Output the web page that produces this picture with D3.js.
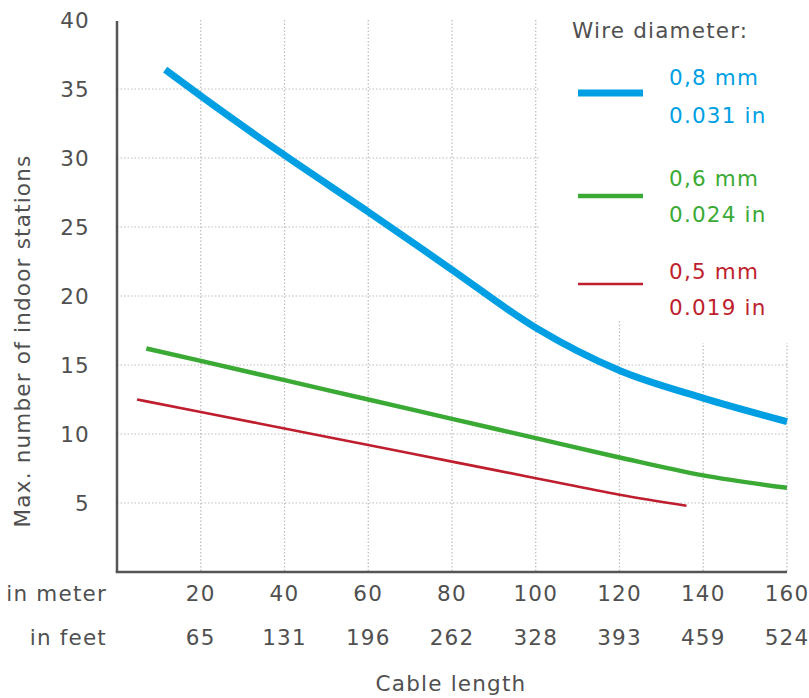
<!DOCTYPE html>
<html>
<head>
<meta charset="utf-8">
<script src="https://cdn.jsdelivr.net/npm/d3@7"></script>
<style>
  html, body { margin: 0; padding: 0; background: #fff; }
</style>
</head>
<body>
<script>
// Max. number of indoor stations vs cable length, per wire diameter.

// ---------------------------------------------------------------------------
// Data
// ---------------------------------------------------------------------------

const meterTicks = [20, 40, 60, 80, 100, 120, 140, 160];
const feetTicks = ["65", "131", "196", "262", "328", "393", "459", "524"];
const yTicks = [5, 10, 15, 20, 25, 30, 35, 40];

// [cable length in m, max stations]
const wire08 = [[11.5, 36.4], [20, 34.5], [40, 30.2], [60, 26.1], [80, 21.9], [100, 17.7], [120, 14.6], [140, 12.6], [160, 10.9]];
const wire06 = [[7, 16.2], [20, 15.3], [40, 13.9], [60, 12.5], [80, 11.1], [100, 9.7], [120, 8.3], [140, 7.0], [160, 6.1]];
const wire05 = [[4.8, 12.5], [20, 11.6], [40, 10.4], [60, 9.2], [80, 8.0], [100, 6.8], [120, 5.6], [136, 4.8]];

const seriesNames = [["0,8 mm", "0.031 in"], ["0,6 mm", "0.024 in"], ["0,5 mm", "0.019 in"]];

// ---------------------------------------------------------------------------
// Setup
// ---------------------------------------------------------------------------

const width = 809;
const height = 698;
const FONT = "'DejaVu Sans', sans-serif";
const FS = 21.5;
const LS = 1.2;
const TEXT = "#505050";
const COLORS = ["#009fe3", "#3aaa35", "#be1e2d"];
const WIDTHS = [7, 4.5, 2.6];

const svg = d3.select("body").append("svg")
  .attr("width", width)
  .attr("height", height)
  .attr("font-family", FONT)
  .attr("font-size", FS)
  .attr("letter-spacing", LS);

svg.append("rect").attr("width", width).attr("height", height).attr("fill", "#fff");

const x = d3.scaleLinear().domain([0, 160]).range([117, 787]);
const y = d3.scaleLinear().domain([0, 40]).range([572, 20]);

// Grid (dotted).
const grid = svg.append("g").attr("stroke", "#bbb").attr("stroke-width", 1.2).attr("stroke-dasharray", "1.5,2");
grid.selectAll(".hy").data(yTicks.filter((d) => d < 40)).join("line")
  .attr("x1", x(0)).attr("x2", x(160))
  .attr("y1", (d) => y(d)).attr("y2", (d) => y(d));
grid.selectAll(".vx").data(meterTicks).join("line")
  .attr("x1", (d) => x(d)).attr("x2", (d) => x(d))
  .attr("y1", y(40)).attr("y2", y(0));

// Legend backdrop hides grid in the top right corner.
svg.append("rect").attr("x", 539).attr("y", 0).attr("width", width - 539).attr("height", 319).attr("fill", "#fff");
svg.append("rect").attr("x", 660).attr("y", 0).attr("width", width - 660).attr("height", 343).attr("fill", "#fff");

// Axes lines.
svg.append("line").attr("x1", x(0)).attr("x2", x(0)).attr("y1", y(40) + 1).attr("y2", y(0))
  .attr("stroke", "#555").attr("stroke-width", 2.5);
svg.append("line").attr("x1", x(0) - 1.25).attr("x2", x(160)).attr("y1", y(0)).attr("y2", y(0))
  .attr("stroke", "#555").attr("stroke-width", 2.5);

// Y tick labels.
svg.append("g").selectAll("text").data(yTicks).join("text")
  .attr("x", 90).attr("y", (d) => y(d))
  .attr("text-anchor", "end").attr("dominant-baseline", "central")
  .attr("fill", TEXT)
  .text((d) => d);

// X tick labels, meters and feet.
svg.append("g").selectAll("text").data(meterTicks).join("text")
  .attr("x", (d) => x(d)).attr("y", 593)
  .attr("text-anchor", "middle").attr("dominant-baseline", "central")
  .attr("fill", TEXT)
  .text((d) => d);
svg.append("g").selectAll("text").data(meterTicks).join("text")
  .attr("x", (d) => x(d)).attr("y", 637)
  .attr("text-anchor", "middle").attr("dominant-baseline", "central")
  .attr("fill", TEXT)
  .text((d, i) => feetTicks[i]);

svg.append("text").attr("x", 107).attr("y", 593).attr("text-anchor", "end")
  .attr("dominant-baseline", "central").attr("fill", TEXT).text("in meter");
svg.append("text").attr("x", 107).attr("y", 637).attr("text-anchor", "end")
  .attr("dominant-baseline", "central").attr("fill", TEXT).text("in feet");

// Axis titles.
svg.append("text").attr("x", 451).attr("y", 683).attr("text-anchor", "middle")
  .attr("dominant-baseline", "central").attr("fill", TEXT).text("Cable length");
svg.append("text")
  .attr("transform", "translate(22,341) rotate(-90)")
  .attr("text-anchor", "middle").attr("dominant-baseline", "central")
  .attr("fill", TEXT)
  .text("Max. number of indoor stations");

// Curves.
const line = d3.line().x((d) => x(d[0])).y((d) => y(d[1])).curve(d3.curveMonotoneX);
[wire08, wire06, wire05].forEach((data, i) => {
  svg.append("path").datum(data)
    .attr("d", line)
    .attr("fill", "none")
    .attr("stroke", COLORS[i])
    .attr("stroke-width", WIDTHS[i]);
});

// Legend.
svg.append("text").attr("x", 572).attr("y", 30).attr("dominant-baseline", "central")
  .attr("fill", TEXT).text("Wire diameter:");

const legendY = [93, 196, 284];
const labelY = [[77, 115], [178, 214], [271, 307]];
seriesNames.forEach((names, i) => {
  svg.append("line").attr("x1", 578).attr("x2", 643).attr("y1", legendY[i]).attr("y2", legendY[i])
    .attr("stroke", COLORS[i]).attr("stroke-width", WIDTHS[i]);
  names.forEach((t, j) => {
    svg.append("text").attr("x", 669).attr("y", labelY[i][j]).attr("dominant-baseline", "central")
      .attr("fill", COLORS[i]).text(t);
  });
});
</script>
</body>
</html>
